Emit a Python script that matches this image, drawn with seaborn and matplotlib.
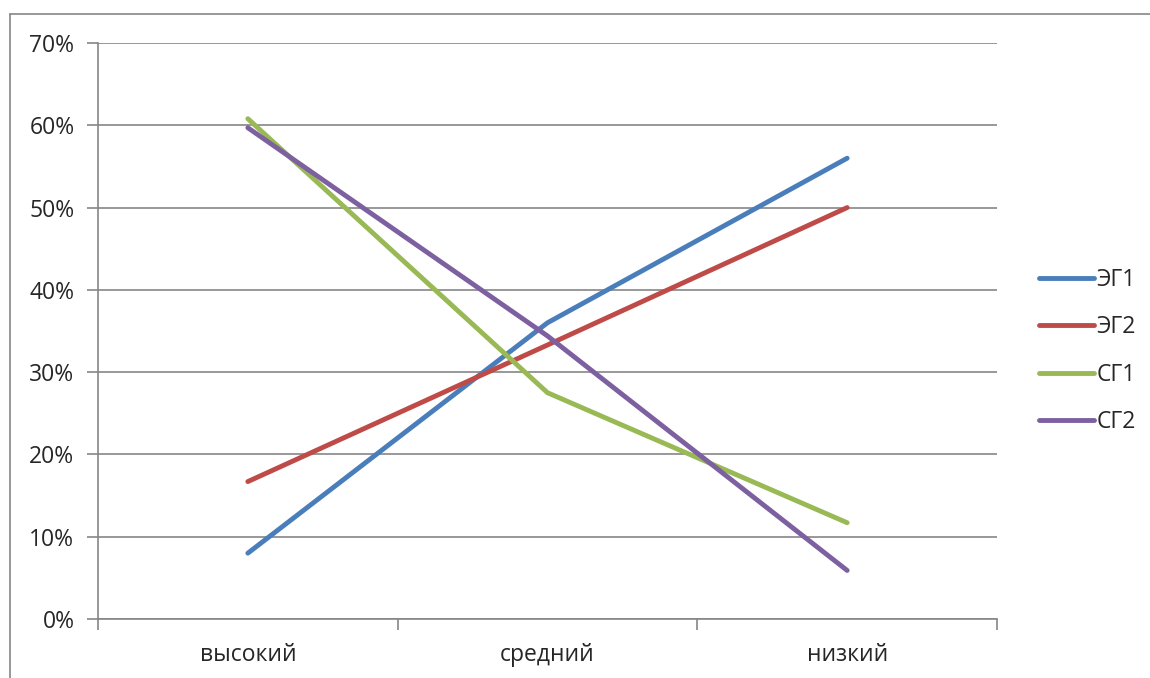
import numpy as np
import pandas as pd
import matplotlib.pyplot as plt
import matplotlib.lines as mlines
import seaborn as sns
from matplotlib.ticker import PercentFormatter, FixedLocator

levels = ["высокий", "средний", "низкий"]
groups = ["ЭГ1", "ЭГ2", "СГ1", "СГ2"]
eg1 = [8.0, 36.0, 56.0]
eg2 = [16.7, 33.3, 50.0]
sg1 = [60.8, 27.5, 11.7]
sg2 = [59.7, 34.4, 5.9]
colors = ["#4A7EBB", "#BE4B48", "#98B954", "#7D60A0"]

df = pd.DataFrame({
    "level": levels * 4,
    "group": np.repeat(groups, 3),
    "value": eg1 + eg2 + sg1 + sg2,
})

sns.set_style("white")
plt.rcParams["font.family"] = ["Open Sans", "DejaVu Sans"]
plt.rcParams["lines.solid_capstyle"] = "round"
fs = 16.5

fig = plt.figure(figsize=(11.5, 6.78), dpi=100)
ax = fig.add_axes([98 / 1150, 1 - 619 / 678, (997 - 98) / 1150, (619 - 43) / 678])

sns.lineplot(data=df, x="level", y="value", hue="group", palette=colors,
             sort=False, linewidth=3.5, ax=ax, legend=False)

grey = "#868686"
ax.set_xlim(-0.5, 2.5)
ax.set_ylim(0, 70)
ax.yaxis.set_major_locator(FixedLocator(np.arange(0, 71, 10)))
ax.yaxis.set_major_formatter(PercentFormatter(decimals=0))
ax.grid(axis="y", color=grey, linewidth=1.2)
ax.set_axisbelow(True)

# category boundaries as major ticks, labels on minor ticks
ax.xaxis.set_major_locator(FixedLocator([-0.5, 0.5, 1.5, 2.5]))
ax.xaxis.set_minor_locator(FixedLocator([0, 1, 2]))
ax.set_xticklabels([], minor=False)
ax.set_xticklabels(levels, minor=True)
ax.tick_params(axis="x", which="major", length=8, width=1.2, color=grey, direction="out", bottom=True)
ax.tick_params(axis="x", which="minor", length=0, labelsize=fs, pad=17)
ax.tick_params(axis="y", length=8, width=1.2, color=grey, direction="out", left=True, labelsize=fs, pad=9)

for s in ["top", "right"]:
    ax.spines[s].set_visible(False)
for s in ["left", "bottom"]:
    ax.spines[s].set_color(grey)
    ax.spines[s].set_linewidth(1.2)
ax.set_xlabel("")
ax.set_ylabel("")

handles = [mlines.Line2D([], [], color=c, linewidth=3.5) for c in colors]
ax.legend(handles, groups, loc="center left", bbox_to_anchor=(1028 / 1150, 1 - 351 / 678),
          bbox_transform=fig.transFigure, frameon=False, fontsize=fs,
          handlelength=2.4, handletextpad=0.1, labelspacing=1.02, borderpad=0)

# outer chart frame
fig.add_artist(mlines.Line2D([9.5 / 1150, 9.5 / 1150], [0, 1 - 13.5 / 678], color=grey, linewidth=1.2))
fig.add_artist(mlines.Line2D([9.5 / 1150, 1], [1 - 13.5 / 678, 1 - 13.5 / 678], color=grey, linewidth=1.2))

fig.savefig("out.png", dpi=100)
